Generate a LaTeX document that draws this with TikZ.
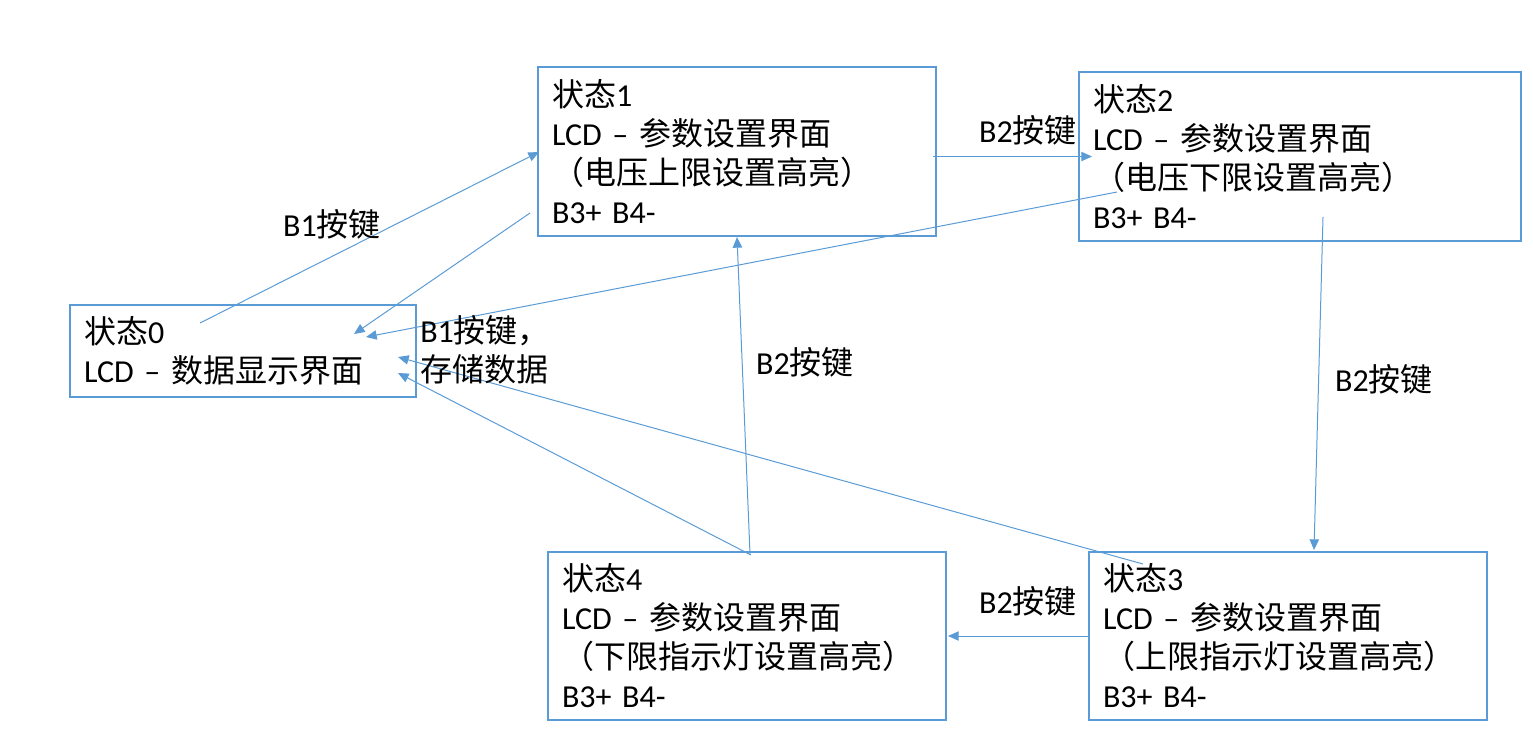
\documentclass[tikz,border=0pt]{standalone}
\usepackage{fontspec}
\setmainfont{Carlito}
\newfontfamily\cjk{Noto Sans CJK SC}
\newcommand\zhs[1]{{\cjk #1}}
\usetikzlibrary{arrows.meta}
\definecolor{linkblue}{HTML}{5B9BD5}
\newcommand\statefont{\fontsize{24pt}{29.25pt}\selectfont}
\tikzset{
  state/.style = {draw=linkblue, line width=0.8pt, align=left,
    inner xsep=10.5pt, inner ysep=0pt, font=\statefont},
  link/.style = {draw=linkblue, line width=0.75pt,
    -{Triangle[length=8pt,width=7pt]}},
  keylabel/.style = {inner sep=0pt, font=\statefont}
}

\begin{document}
\begin{tikzpicture}[x=0.75pt,y=-0.75pt]
  \useasboundingbox (0,0) rectangle (1533,744);
  % states
  \node[state, text width=238.5pt, minimum height=69pt] (state0) at (243,351)
    {\zhs{状态}0\\LCD – \zhs{数据显示界面}};
  \node[state, text width=277.5pt, minimum height=126.75pt] (state1) at (737,151.5)
    {\zhs{状态}1\\LCD – \zhs{参数设置界面}\\\zhs{（电压上限设置高亮）}\\B3+ B4-};
  \node[state, text width=310.5pt, minimum height=126.75pt] (state2) at (1300,156.5)
    {\zhs{状态}2\\LCD – \zhs{参数设置界面}\\\zhs{（电压下限设置高亮）}\\B3+ B4-};
  \node[state, text width=277.5pt, minimum height=126pt] (state3) at (1288,636)
    {\zhs{状态}3\\LCD – \zhs{参数设置界面}\\\zhs{（上限指示灯设置高亮）}\\B3+ B4-};
  \node[state, text width=277.5pt, minimum height=126pt] (state4) at (747,636)
    {\zhs{状态}4\\LCD – \zhs{参数设置界面}\\\zhs{（下限指示灯设置高亮）}\\B3+ B4-};
  % arrow ends
  \coordinate (from0) at (200,323);    \coordinate (to1) at (539,152);
  \coordinate (from1) at (530,213);    \coordinate (to0a) at (354,334);
  \coordinate (from2) at (1117,192);   \coordinate (to0b) at (366,337);
  \coordinate (from1r) at (933,156.5); \coordinate (to2) at (1092,156.5);
  \coordinate (from2b) at (1323,217);  \coordinate (to3) at (1314,550);
  \coordinate (to4) at (948,636);
  \coordinate (from4) at (750,554);    \coordinate (to1b) at (737,237);
  \coordinate (from3b) at (1143,564);  \coordinate (to0c) at (398,357);
  \coordinate (from4b) at (751,555);   \coordinate (to0d) at (398,373);
  % arrows
  \draw[link] (from0) -- (to1);
  \draw[link] (from1) -- (to0a);
  \draw[link] (from2) -- (to0b);
  \draw[link] (from1r) -- (to2);
  \draw[link] (from2b) -- (to3);
  \draw[link] (state3.west) -- (to4);
  \draw[link] (from4) -- (to1b);
  \draw[link] (from3b) -- (to0c);
  \draw[link] (from4b) -- (to0d);
  % key labels
  \node[keylabel] (keyb1) at (332,224) {B1\zhs{按键}};
  \node[keylabel, anchor=west, align=left] (keysave) at (420,349.5)
    {B1\zhs{按键，}\\\zhs{存储数据}};
  \node[keylabel] (keyb2a) at (1028,130) {B2\zhs{按键}};
  \node[keylabel] (keyb2b) at (1384,379) {B2\zhs{按键}};
  \node[keylabel] (keyb2c) at (1028,601) {B2\zhs{按键}};
  \node[keylabel] (keyb2d) at (805,362) {B2\zhs{按键}};
\end{tikzpicture}
\end{document}
